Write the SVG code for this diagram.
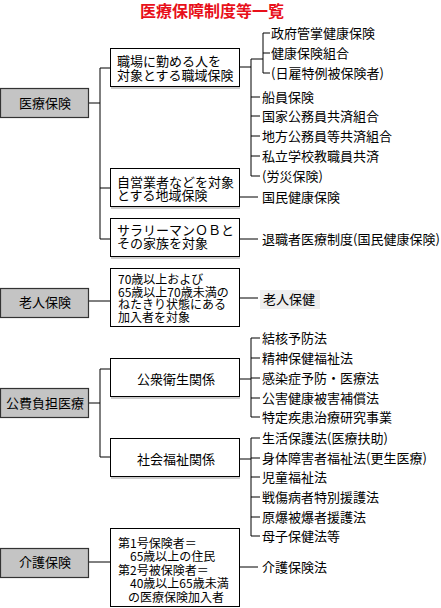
<svg xmlns="http://www.w3.org/2000/svg" width="441" height="608" viewBox="0 0 441 608">
<style>
text{font-family:"Noto Sans CJK JP","Noto Sans CJK SC",sans-serif;font-size:13px;fill:#000}
.title{font-size:16px;font-weight:bold;fill:#e8101a}
.tight{font-size:12px}
.cat rect{fill:#c4c4c4;stroke:#333;stroke-width:1.2}
.box rect{fill:#fff;stroke:#000;stroke-width:1}
.shadow{stroke:#999;stroke-width:1}
.mid{text-anchor:middle}
#connectors path{fill:none;stroke:#000;stroke-width:1}
</style>
<rect width="441" height="608" fill="#fff"/>
<text class="title mid" x="212" y="17">医療保障制度等一覧</text>

<g id="connectors">
<path d="M89 103H100M100 68V239M100 68H110M100 188H110M100 239H110"/>
<path d="M240 67H251M251 59H263M263 33V73M263 33H270M263 53H270M263 73H270"/>
<path d="M251 59V176M251 97H260M251 116H260M251 136H260M251 156H260M251 176H260"/>
<path d="M240 197H258M240 239H258"/>
<path d="M89 301H110M240 298H258"/>
<path d="M89 403H100M100 369V457M100 369H110M100 457H110"/>
<path d="M240 379H251M251 338V417M251 338H260M251 358H260M251 378H260M251 398H260M251 417H260"/>
<path d="M240 459H251M251 438V536M251 438H260M251 458H260M251 477H260M251 497H260M251 517H260M251 536H260"/>
<path d="M89 562H110M240 567H258"/>
</g>

<g id="cat-iryo" class="cat"><rect x="0.5" y="88.5" width="88" height="29"/><text class="mid" x="45" y="108">医療保険</text></g>
<g id="cat-rojin" class="cat"><rect x="0.5" y="288.5" width="88" height="29"/><text class="mid" x="45" y="307">老人保険</text></g>
<g id="cat-kohi" class="cat"><rect x="0.5" y="388.5" width="88" height="29"/><text class="mid" x="45" y="408">公費負担医療</text></g>
<g id="cat-kaigo" class="cat"><rect x="0.5" y="548.5" width="88" height="29"/><text class="mid" x="45" y="567">介護保険</text></g>

<g id="box-shokuiki" class="box"><rect x="110.5" y="48.5" width="129" height="38"/><line class="shadow" x1="111" y1="88" x2="240" y2="88"/><text x="117" y="66">職場に勤める人を</text><text x="117" y="80">対象とする職域保険</text></g>
<g id="box-chiiki" class="box"><rect x="110.5" y="168.5" width="129" height="38"/><line class="shadow" x1="111" y1="208" x2="240" y2="208"/><text x="117" y="187">自営業者などを対象</text><text x="117" y="200">とする地域保険</text></g>
<g id="box-ob" class="box"><rect x="110.5" y="218.5" width="129" height="38"/><line class="shadow" x1="111" y1="258" x2="240" y2="258"/><text x="117" y="235">サラリーマンＯＢと</text><text x="117" y="248">その家族を対象</text></g>
<g id="box-rojin" class="box"><rect x="110.5" y="268.5" width="129" height="58"/><text class="tight" x="118" y="284">70歳以上および</text><text class="tight" x="118" y="297">65歳以上70歳未満の</text><text class="tight" x="118" y="309">ねたきり状態にある</text><text class="tight" x="118" y="322">加入者を対象</text></g>
<g id="box-koshu" class="box"><rect x="110.5" y="358.5" width="129" height="38"/><line class="shadow" x1="111" y1="398" x2="240" y2="398"/><text class="mid" x="176" y="384">公衆衛生関係</text></g>
<g id="box-shakai" class="box"><rect x="110.5" y="438.5" width="129" height="38"/><line class="shadow" x1="111" y1="478" x2="240" y2="478"/><text class="mid" x="176" y="464">社会福祉関係</text></g>
<g id="box-kaigo" class="box"><rect x="110.5" y="528.5" width="129" height="78"/><text class="tight" x="118" y="548">第1号保険者＝</text><text class="tight" x="130" y="561">65歳以上の住民</text><text class="tight" x="118" y="575">第2号被保険者＝</text><text class="tight" x="130" y="588">40歳以上65歳未満</text><text class="tight" x="128" y="602">の医療保険加入者</text></g>

<g id="items">
<text x="271" y="38">政府管掌健康保険</text>
<text x="271" y="58">健康保険組合</text>
<text x="271" y="78">(日雇特例被保険者)</text>
<text x="262" y="102">船員保険</text>
<text x="262" y="121">国家公務員共済組合</text>
<text x="262" y="141">地方公務員等共済組合</text>
<text x="262" y="161">私立学校教職員共済</text>
<text x="262" y="181">(労災保険)</text>
<text x="262" y="202">国民健康保険</text>
<text x="262" y="244">退職者医療制度(国民健康保険)</text>
<g id="item-rojinhoken"><rect x="260" y="290" width="60" height="19" fill="#eeeeee"/><text x="263" y="304">老人保健</text></g>
<text x="262" y="343">結核予防法</text>
<text x="262" y="363">精神保健福祉法</text>
<text x="262" y="383">感染症予防・医療法</text>
<text x="262" y="403">公害健康被害補償法</text>
<text x="262" y="422">特定疾患治療研究事業</text>
<text x="262" y="443">生活保護法(医療扶助)</text>
<text x="262" y="463">身体障害者福祉法(更生医療)</text>
<text x="262" y="482">児童福祉法</text>
<text x="262" y="502">戦傷病者特別援護法</text>
<text x="262" y="522">原爆被爆者援護法</text>
<text x="262" y="541">母子保健法等</text>
<text x="262" y="572">介護保険法</text>
</g>
</svg>
